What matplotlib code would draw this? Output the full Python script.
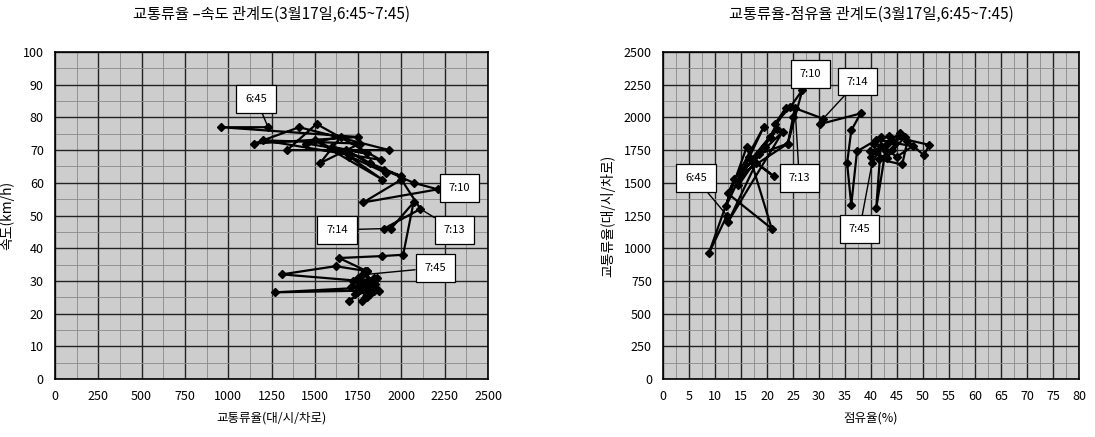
import matplotlib
matplotlib.use("Agg")
import matplotlib.pyplot as plt
from matplotlib.ticker import MultipleLocator

plt.rcParams['font.family'] = ['Noto Sans CJK KR', 'DejaVu Sans']

# left chart: flow - speed, one point per minute 6:45 ~ 7:45
flow_a = [1230, 960, 1750, 1150, 1410, 1930, 1340, 1510, 1880, 1200,
          1760, 1530, 1650, 1450, 1800, 1600, 1700, 1890, 1500, 1910,
          1680, 1820, 2000, 1900, 2070, 2210, 1780, 2000, 2110, 1900,
          1940, 2070, 2010, 1890, 1640, 1800, 1620, 1310, 1760, 1840,
          1750, 1270, 1800, 1700, 1850, 1780, 1730, 1870, 1770, 1820,
          1710, 1860, 1760, 1800, 1840, 1720, 1790, 1850, 1750, 1820, 1800]
speed = [77, 77, 74, 72, 77, 70, 70, 78, 67, 73,
         72, 66, 74, 72, 69, 71, 68, 61, 73, 63,
         70, 66, 62, 64, 60, 58, 54, 61, 52, 46,
         46, 54, 38, 37.6, 37, 33, 34.5, 32, 30, 31,
         27, 26.5, 28, 24, 29, 32, 26, 27, 24, 30,
         28, 31, 29, 25, 27, 30, 33, 28, 31, 26, 33]

# right chart: occupancy - flow
occ = [12.3, 8.8, 16.1, 20.9, 12.4, 19.4, 12.1, 13.6, 23.0, 12.5,
       17.9, 21.3, 16.5, 14.5, 19.6, 15.5, 18.5, 24.0, 14.8, 22.0,
       17.0, 20.5, 23.6, 21.5, 24.5, 26.8, 24.0, 25.0, 25.4, 30.8,
       30.1, 38.0, 36.2, 35.4, 36.2, 37.3, 42.0, 41.0, 43.0, 40.0,
       45.5, 44.0, 41.5, 46.0, 47.0, 50.2, 51.2, 43.5, 40.5, 42.5,
       45.0, 48.0, 41.0, 44.5, 39.8, 43.0, 46.5, 42.0, 40.2]
flow_b = [1250, 960, 1775, 1150, 1420, 1930, 1320, 1530, 1890, 1200,
          1650, 1550, 1700, 1480, 1775, 1600, 1720, 1800, 1560, 1910,
          1680, 1850, 2070, 1950, 2080, 2210, 1800, 2000, 2070, 1990,
          1948, 2030, 1900, 1650, 1330, 1740, 1850, 1305, 1800, 1700,
          1880, 1750, 1680, 1640, 1820, 1710, 1790, 1860, 1800, 1760,
          1700, 1780, 1830, 1810, 1740, 1690, 1850, 1780, 1650]

# labels: (text, point, box position)
labels_a = [("6:45", (1230, 77), (1162, 85.6)),
            ("7:10", (2210, 58), (2336, 58.3)),
            ("7:13", (2110, 52), (2306, 45.6)),
            ("7:14", (1900, 46), (1627, 45.6)),
            ("7:45", (1800, 32), (2195, 34))]
labels_b = [("7:10", (26.8, 2210), (28.4, 2330)),
            ("7:14", (30.8, 1990), (37.4, 2274)),
            ("6:45", (12.3, 1250), (6.3, 1534)),
            ("7:13", (25.4, 2070), (26.2, 1534)),
            ("7:45", (40.2, 1650), (37.8, 1144))]

fig = plt.figure(figsize=(10.95, 4.37), dpi=100)
ax1 = fig.add_axes([0.0502, 0.1327, 0.3955, 0.7483])
ax2 = fig.add_axes([0.6055, 0.1327, 0.3799, 0.7483])


def style(ax, xmax, ymax, xmaj, ymaj):
    ax.set_facecolor('#cdcdcd')
    ax.set_xlim(0, xmax)
    ax.set_ylim(0, ymax)
    ax.xaxis.set_major_locator(MultipleLocator(xmaj))
    ax.yaxis.set_major_locator(MultipleLocator(ymaj))
    ax.xaxis.set_minor_locator(MultipleLocator(xmaj / 2))
    ax.yaxis.set_minor_locator(MultipleLocator(ymaj / 2))
    ax.grid(which='major', color='#222222', linewidth=1.0)
    ax.grid(which='minor', color='#8a8a8a', linewidth=0.6)
    ax.set_axisbelow(True)
    ax.tick_params(which='both', length=0, labelsize=9, pad=8)
    for s in ax.spines.values():
        s.set_color('black')
        s.set_linewidth(1.2)


def annotate(ax, items):
    for text, pt, box in items:
        ax.annotate(text, xy=pt, xytext=box, fontsize=8, ha='center', va='center',
                    bbox=dict(boxstyle='square,pad=0.8', fc='white', ec='black', lw=0.9),
                    arrowprops=dict(arrowstyle='-', color='black', lw=1.0, shrinkA=0, shrinkB=0),
                    zorder=5)


style(ax1, 2500, 100, 250, 10)
ax1.plot(flow_a, speed, color='black', lw=1.6, marker='D', ms=4.5, zorder=3)
annotate(ax1, labels_a)
ax1.set_title('교통류율 –속도 관계도(3월17일,6:45~7:45)', fontsize=11, pad=24)
ax1.set_xlabel('교통류율(대/시/차로)', fontsize=9, labelpad=6)
ax1.set_ylabel('속도(km/h)', fontsize=10, labelpad=6)

style(ax2, 80, 2500, 5, 250)
ax2.plot(occ, flow_b, color='black', lw=1.6, marker='D', ms=4.5, zorder=3)
annotate(ax2, labels_b)
ax2.set_title('교통류율-점유율 관계도(3월17일,6:45~7:45)', fontsize=11, pad=24)
ax2.set_xlabel('점유율(%)', fontsize=9, labelpad=6)
ax2.set_ylabel('교통류율(대/시/차로)', fontsize=10, labelpad=6)

fig.savefig('out.png', dpi=100)
